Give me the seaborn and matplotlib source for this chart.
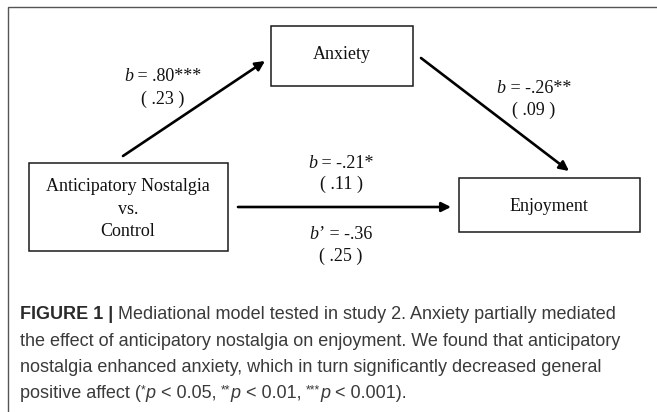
import matplotlib
matplotlib.use("Agg")
import matplotlib.pyplot as plt
import seaborn as sns
from matplotlib.patches import Rectangle

sns.set_theme(style="white")
plt.rcParams['font.family'] = ['Liberation Serif', 'DejaVu Serif']

# ---- content ----
node_labels = ["Anxiety", ["Anticipatory Nostalgia", "vs.", "Control"], ["Enjoyment"]]
path_symbols = ["b", "b", "b", "b\u2019"]
path_coefs = [".80***", "-.26**", "-.21*", "-.36"]
path_ses = [".23", ".09", ".11", ".25"]
caption_bold = "FIGURE 1 |"
caption_lines = [
    " Mediational model tested in study 2. Anxiety partially mediated",
    "the effect of anticipatory nostalgia on enjoyment. We found that anticipatory",
    "nostalgia enhanced anxiety, which in turn significantly decreased general",
]
sig_stars = ["*", "**", "***"]
sig_levels = ["0.05", "0.01", "0.001"]

W, H = 657, 412
fig = plt.figure(figsize=(W / 100, H / 100), dpi=100)
ax = fig.add_axes([0, 0, 1, 1])
ax.set_xlim(0, W)
ax.set_ylim(H, 0)
ax.axis('off')
renderer = fig.canvas.get_renderer()


def text_width(t, kw):
    a = ax.text(0, 0, "X" + t + "X", **kw)
    b = ax.text(0, 0, "XX", **kw)
    w = a.get_window_extent(renderer).width - b.get_window_extent(renderer).width
    a.remove(); b.remove()
    return w


def runs(x, y, parts, ha='left'):
    widths = [text_width(t, kw) for t, kw, dy in parts]
    cx = x - sum(widths) / 2 if ha == 'center' else x
    for (t, kw, dy), w in zip(parts, widths):
        ax.text(cx, y + dy, t, va='baseline', ha='left', **kw)
        cx += w


# outer frame (right/bottom run off the image)
ax.add_patch(Rectangle((8, 7), 700, 500, fill=False, lw=1.0, ec='#555555'))

BOX = dict(fill=False, lw=1.1, ec='#1a1a1a')
FS = 13.0
serif = dict(fontsize=FS, color='#111111', family=['Liberation Serif'])
serif_it = dict(serif, style='italic')

# boxes
ax.add_patch(Rectangle((271, 26), 142, 60, **BOX))    # Anxiety
ax.add_patch(Rectangle((29, 163), 199, 88, **BOX))    # predictor
ax.add_patch(Rectangle((459, 178), 181, 54, **BOX))   # Enjoyment

runs(342, 59, [(node_labels[0], serif, 0)], ha='center')
for lbl, yb in zip(node_labels[1], [191, 214, 236]):
    runs(128, yb, [(lbl, serif, 0)], ha='center')
runs(549, 211, [(node_labels[2][0], serif, 0)], ha='center')

# arrows
AP = dict(arrowstyle='-|>', lw=1.9, color='black', mutation_scale=14,
          shrinkA=0, shrinkB=0)
arrows = [((123, 156), (265, 61)), ((421, 58), (569, 171)),
          ((238, 207), (451, 207))]
for (x0, y0), (x1, y1) in arrows:
    ax.annotate("", xy=(x1, y1), xytext=(x0, y0), arrowprops=AP)

# path labels
label_pos = [(163, 81, 104), (534, 93, 115), (341, 168, 189), (341, 239, 261)]
for sym, coef, se, (x, y1, y2) in zip(path_symbols, path_coefs, path_ses, label_pos):
    runs(x, y1, [(sym, serif_it, 0), (" = " + coef, serif, 0)], ha='center')
    runs(x, y2, [("( " + se + " )", serif, 0)], ha='center')

# caption
CFS = 13.0
sans = dict(fontsize=CFS, color='#3a3a3a', family=['Liberation Sans'])
sans_b = dict(sans, weight='bold', color='#2a2a2a')
sans_it = dict(sans, style='italic')
sup = dict(sans, fontsize=CFS * 0.68)

x0 = 20
baselines = [319, 345.5, 372, 398]
runs(x0, baselines[0], [(caption_bold, sans_b, 0), (caption_lines[0], sans, 0)])
runs(x0, baselines[1], [(caption_lines[1], sans, 0)])
runs(x0, baselines[2], [(caption_lines[2], sans, 0)])
parts = [("positive affect (", sans, 0)]
for i, (st, lv) in enumerate(zip(sig_stars, sig_levels)):
    parts.append((st, sup, -5))
    parts.append(("p", sans_it, 0))
    parts.append((" < " + lv + (", " if i < 2 else ")."), sans, 0))
runs(x0, baselines[3], parts)

fig.savefig("out.png", dpi=100)
